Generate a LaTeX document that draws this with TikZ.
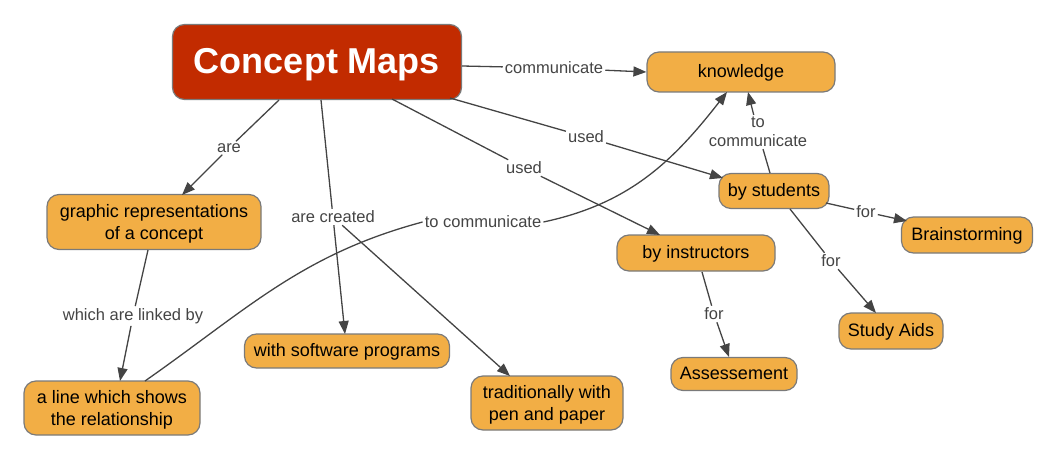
\documentclass[tikz,border=0pt]{standalone}
\usepackage{fontspec}
\setmainfont{Liberation Sans}
\usetikzlibrary{arrows.meta}
\definecolor{cmorange}{HTML}{F2AE45}
\definecolor{cmred}{HTML}{C22B00}
\definecolor{cmedge}{HTML}{444444}
\definecolor{cmborder}{HTML}{7A7A7A}
\tikzset{
  concept/.style={draw=cmborder, line width=1.2pt, fill=cmorange, rounded corners=12pt,
    align=center, inner sep=2pt, font=\fontsize{18}{21.5}\selectfont, text=black},
  oneline/.style={text height=12.6pt, text depth=2.2pt},
  twoline/.style={text depth=0pt},
  mainconcept/.style={concept, fill=cmred, text=white, font=\fontsize{36}{40}\selectfont\bfseries,
    text height=25pt, text depth=2.1pt},
  linkword/.style={inner sep=2pt, align=center, font=\fontsize{16.5}{19}\selectfont, text=cmedge},
  conn/.style={draw=cmedge, line width=1.3pt},
  arr/.style={conn, -{Triangle[length=13pt,width=10pt]}},
}
\begin{document}
\begin{tikzpicture}[x=1pt,y=-1pt]
\useasboundingbox (0,0) rectangle (1058,460);
% concepts
\node[mainconcept, minimum width=289pt, minimum height=75pt] (cm) at (317,62) {Concept Maps};
\node[concept, oneline, minimum width=188pt, minimum height=40pt] (know) at (741,72) {knowledge};
\node[concept, oneline, minimum width=110pt, minimum height=35pt] (stud) at (774,191) {by students};
\node[concept, oneline, minimum width=131pt, minimum height=36pt] (brain) at (967,235) {Brainstorming};
\node[concept, oneline, minimum width=104pt, minimum height=36pt] (aids) at (891,331) {Study Aids};
\node[concept, oneline, minimum width=158pt, minimum height=36pt] (instr) at (696,253) {by instructors};
\node[concept, oneline, minimum width=126pt, minimum height=33pt] (assess) at (734,374) {Assessement};
\node[concept, twoline, minimum width=152pt, minimum height=54pt] (trad) at (547,403) {traditionally with\\pen and paper};
\node[concept, oneline, minimum width=205pt, minimum height=34pt] (soft) at (347,351) {with software programs};
\node[concept, twoline, minimum width=214pt, minimum height=55pt] (graph) at (154,222) {graphic representations\\of a concept};
\node[concept, twoline, minimum width=176pt, minimum height=54pt] (line) at (112,408) {a line which shows\\the relationship};
% linking words
\node[linkword] (lcomm) at (554,68) {communicate};
\node[linkword] (lare) at (229,148) {are};
\node[linkword] (lcreated) at (333,217) {are created};
\node[linkword] (lused1) at (586,137) {used};
\node[linkword] (lused2) at (524,168) {used};
\node[linkword] (ltocomm) at (483,222) {to communicate};
\node[linkword] (ltocomm2) at (758,132) {to\\communicate};
\node[linkword] (lfor1) at (866,212) {for};
\node[linkword] (lfor2) at (831,261) {for};
\node[linkword] (lfor3) at (714,314) {for};
\node[linkword] (llinked) at (133,316) {which are linked by};
% connectors
\draw[conn] (462,66) -- (lcomm);
\draw[arr] (lcomm) -- (know.west);
\draw[conn] (279,100) -- (lare);
\draw[arr] (lare) -- (182,195);
\draw[conn] (321,100) -- (lcreated);
\draw[arr] (lcreated) -- (345,334);
\draw[arr] (lcreated) -- (510,376);
\draw[conn] (450,98) -- (lused1);
\draw[arr] (lused1) -- (723,178);
\draw[conn] (392,99) -- (lused2);
\draw[arr] (lused2) -- (660,235);
\draw[conn] (145,381) to[out=35,in=195] (ltocomm.west);
\draw[arr] (ltocomm.east) to[out=12,in=-128] (727,92);
\draw[conn] (770,173) -- (ltocomm2);
\draw[arr] (ltocomm2) -- (748,92);
\draw[conn] (826,203) -- (lfor1);
\draw[arr] (lfor1) -- (907,221);
\draw[conn] (790,209) -- (lfor2);
\draw[arr] (lfor2) -- (876,313);
\draw[conn] (702,272) -- (lfor3);
\draw[arr] (lfor3) -- (729,357);
\draw[conn] (148,250) -- (llinked);
\draw[arr] (llinked) -- (120,381);
\end{tikzpicture}
\end{document}
